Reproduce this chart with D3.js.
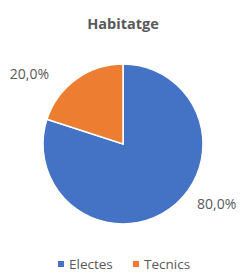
<!DOCTYPE html>
<html>
<head>
<meta charset="utf-8">
<script src="https://cdn.jsdelivr.net/npm/d3@7"></script>
<style>
  body { margin: 0; background: #fff; }
  text { font-family: "Open Sans", sans-serif; fill: #595959; }
</style>
</head>
<body>
<svg id="chart"></svg>
<script>
// Chart data
const categories = ["Electes", "Tecnics"];
const values = [80, 20];
const colors = ["#4472C4", "#ED7D31"];

const width = 241, height = 273;
const cx = 123, cy = 144, radius = 80;

const svg = d3.select("#chart")
    .attr("width", width)
    .attr("height", height);

// Title
svg.append("text")
    .attr("x", 123)
    .attr("y", 29)
    .attr("text-anchor", "middle")
    .style("font-size", "14.5px")
    .style("font-weight", "bold")
    .text("Habitatge");

const pie = d3.pie().sort(null).value(d => d.value);
const arc = d3.arc().innerRadius(0).outerRadius(radius);
const data = categories.map((c, i) => ({ name: c, value: values[i] }));
const arcs = pie(data);
const total = d3.sum(values);

const g = svg.append("g").attr("transform", `translate(${cx},${cy})`);

g.selectAll("path")
    .data(arcs)
    .enter().append("path")
    .attr("d", arc)
    .attr("fill", (d, i) => colors[i])
    .attr("stroke", "#fff")
    .attr("stroke-width", 1.5);

// Data labels: placed beside the point on the rim at mid-angle
const rim = d3.arc().innerRadius(radius).outerRadius(radius);
g.selectAll(".lbl")
    .data(arcs)
    .enter().append("text")
    .attr("class", "lbl")
    .each(function(d) {
        const [px, py] = rim.centroid(d);
        const side = px < 0 ? -1 : 1;
        d3.select(this)
            .attr("x", px + side * 27)
            .attr("y", py)
            .attr("text-anchor", side < 0 ? "end" : "start");
    })
    .style("font-size", "14px")
    .text(d => (d.data.value / total * 100).toFixed(1).replace(".", ",") + "%");

// Legend
const legendX = [58, 133];
const legend = svg.selectAll(".legend")
    .data(data)
    .enter().append("g")
    .attr("class", "legend")
    .attr("transform", (d, i) => `translate(${legendX[i]},261)`);

legend.append("rect")
    .attr("width", 6)
    .attr("height", 6)
    .attr("fill", (d, i) => colors[i]);

legend.append("text")
    .attr("x", 11)
    .attr("y", 8)
    .style("font-size", "13.5px")
    .text(d => d.name);
</script>
</body>
</html>
